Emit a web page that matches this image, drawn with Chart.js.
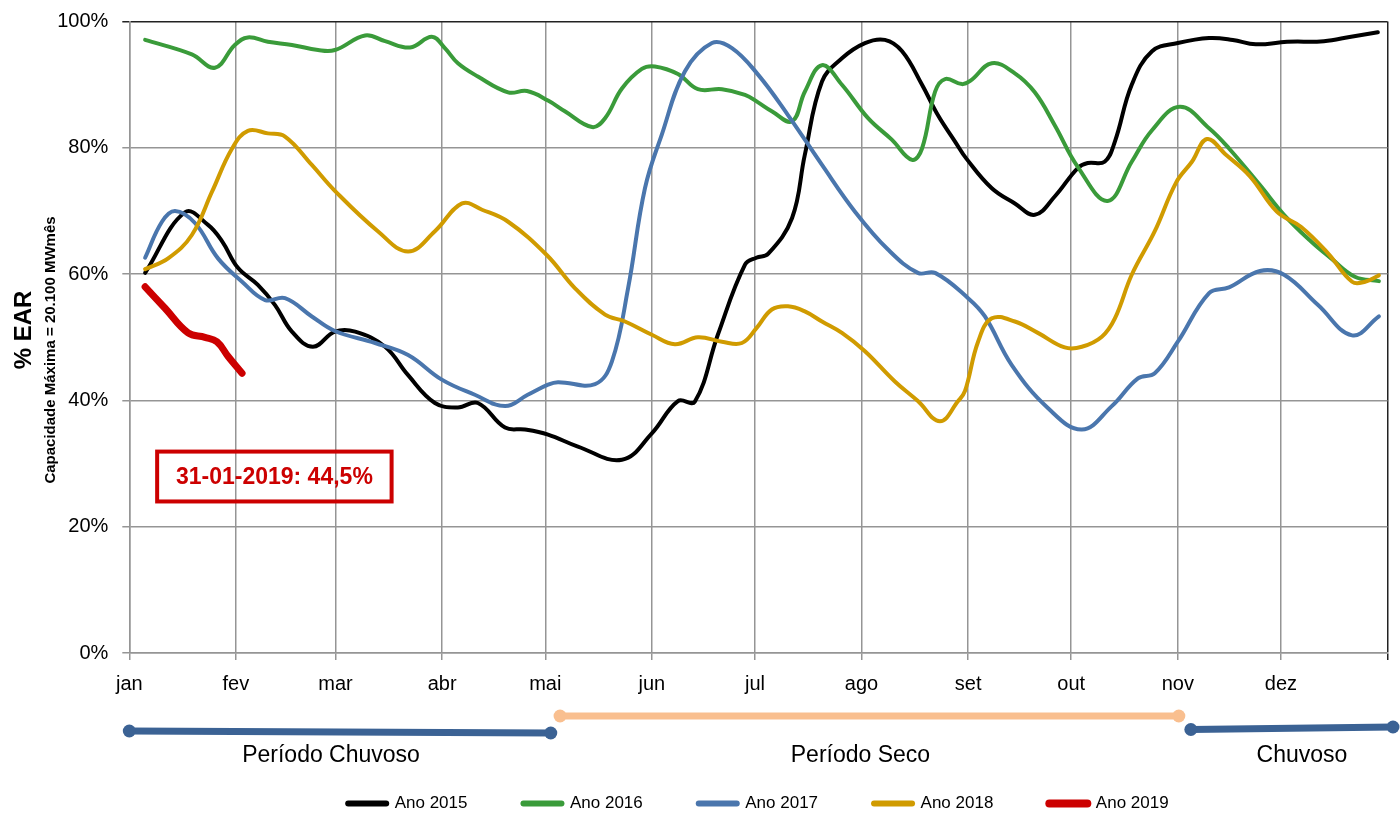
<!DOCTYPE html>
<html>
<head>
<meta charset="utf-8">
<script src="https://cdn.jsdelivr.net/npm/chart.js"></script>
<style>
  html, body { margin: 0; padding: 0; background: #fff; }
  #wrap { position: relative; width: 1400px; height: 814px; }
</style>
</head>
<body>
<div id="wrap"><canvas id="ear-chart"></canvas></div>
<script>
// ---- dados (dia do ano, % EAR) ----
const monthDays = [0, 31, 60, 91, 121, 152, 182, 213, 244, 274, 305, 335, 366];
const monthLabels = ["jan", "fev", "mar", "abr", "mai", "jun", "jul", "ago", "set", "out", "nov", "dez", ""];

const seriesNames = ["Ano 2015", "Ano 2016", "Ano 2017", "Ano 2018", "Ano 2019"];

const d2015 = [4.6, 16.2, 22.9, 27.0, 31.6, 37.4, 42.4, 47.3, 53.4, 59.8, 65.7, 74.4, 81.1, 88.9, 95.6, 101.4, 109.3, 115.1, 121.8, 130.5, 143.3, 152.0, 159.6, 164.5, 171.2, 179.1, 182.4, 185.8, 192.8, 196.5, 201.5, 207.3, 214.0, 219.8, 224.8, 230.6, 235.2, 240.2, 243.5, 250.9, 257.6, 263.4, 269.2, 275.9, 278.8, 283.7, 286.7, 291.6, 297.5, 305.0, 314.1, 321.0, 327.7, 336.8, 347.5, 355.4, 363.2];
const v2015 = [60.2, 69.8, 67.8, 65.2, 61.0, 58.3, 55.1, 50.9, 48.5, 50.9, 50.9, 48.5, 44.0, 39.6, 38.9, 39.6, 35.7, 35.4, 34.6, 32.7, 30.6, 34.8, 39.9, 39.8, 50.4, 61.5, 62.6, 63.2, 68.9, 78.9, 90.5, 94.2, 96.6, 97.1, 95.3, 90.0, 85.2, 81.0, 78.3, 73.6, 71.2, 69.4, 72.3, 76.8, 77.6, 77.8, 81.0, 90.0, 95.3, 96.6, 97.4, 97.1, 96.4, 96.8, 96.9, 97.6, 98.3];

const d2016 = [4.6, 18.2, 24.9, 30.7, 34.5, 40.3, 47.3, 54.9, 59.8, 68.6, 74.4, 81.7, 88.0, 91.8, 95.6, 101.4, 110.2, 115.7, 121.8, 126.7, 134.6, 138.4, 143.3, 149.1, 152.9, 159.6, 165.4, 172.4, 179.1, 182.9, 186.9, 192.8, 196.5, 201.5, 207.3, 214.9, 221.8, 227.7, 230.6, 234.4, 237.3, 242.2, 244.6, 250.9, 257.6, 263.4, 269.2, 275.9, 284.6, 291.6, 297.5, 305.6, 314.1, 319.9, 328.9, 335.9, 343.7, 349.6, 356.5, 363.5];
const v2016 = [97.1, 94.8, 92.7, 96.3, 97.5, 96.8, 96.3, 95.5, 95.5, 97.8, 96.9, 95.9, 97.6, 95.8, 93.4, 91.3, 88.8, 89.0, 87.5, 85.8, 83.3, 84.7, 89.4, 92.5, 92.9, 91.7, 89.3, 89.3, 88.4, 87.2, 85.8, 84.2, 88.9, 93.1, 90.0, 84.7, 81.3, 78.1, 79.9, 88.9, 90.9, 90.1, 90.6, 93.4, 91.8, 88.8, 83.6, 77.0, 71.6, 77.8, 82.8, 86.5, 83.1, 79.9, 74.1, 69.4, 65.2, 62.5, 59.6, 58.9];

const d2017 = [4.6, 9.5, 13.3, 19.1, 25.8, 32.8, 39.5, 45.3, 53.1, 59.8, 71.5, 81.1, 90.9, 100.5, 109.3, 115.9, 121.8, 124.7, 135.5, 140.4, 145.1, 150.0, 154.9, 161.6, 169.5, 175.3, 182.9, 191.6, 201.5, 211.1, 220.7, 229.4, 234.4, 244.0, 248.9, 256.7, 267.2, 277.1, 285.8, 293.4, 298.3, 305.0, 314.1, 319.9, 328.9, 335.9, 345.8, 355.7, 363.5];
const v2017 = [62.6, 68.3, 70.0, 68.1, 62.5, 58.8, 55.9, 56.2, 53.3, 51.0, 49.1, 47.2, 43.3, 40.9, 39.1, 40.9, 42.5, 42.9, 42.6, 46.2, 57.8, 73.6, 82.1, 92.1, 96.6, 95.8, 91.6, 85.2, 77.3, 69.9, 63.9, 60.2, 60.2, 56.2, 53.3, 45.6, 38.8, 35.4, 39.1, 43.5, 44.3, 49.3, 57.0, 57.9, 60.5, 59.9, 55.1, 50.3, 53.3];

const d2018 = [4.6, 11.3, 18.2, 24.1, 29.9, 34.5, 40.3, 45.3, 53.1, 59.8, 72.3, 81.1, 88.9, 96.8, 102.6, 110.2, 121.5, 129.6, 138.4, 144.2, 152.0, 158.7, 165.4, 172.4, 178.2, 182.5, 186.9, 191.6, 196.5, 201.5, 207.3, 214.0, 222.7, 229.4, 235.8, 241.1, 243.1, 246.9, 250.9, 257.6, 264.3, 272.1, 277.1, 282.9, 286.7, 291.6, 298.3, 304.5, 309.1, 313.5, 319.0, 326.0, 333.8, 340.8, 348.7, 355.7, 359.5, 363.5];
const v2018 = [60.8, 62.5, 66.2, 73.1, 79.9, 82.7, 82.3, 81.8, 77.3, 73.2, 66.8, 63.6, 66.8, 71.2, 70.2, 68.3, 63.0, 57.8, 53.6, 52.5, 50.4, 48.9, 50.0, 49.3, 49.1, 51.5, 54.4, 54.9, 54.1, 52.5, 50.7, 47.8, 43.0, 39.9, 36.7, 39.9, 41.5, 49.3, 53.0, 52.5, 50.7, 48.4, 48.5, 50.1, 53.0, 59.9, 66.8, 74.5, 77.8, 81.4, 78.9, 75.5, 69.9, 67.5, 63.3, 58.8, 58.8, 59.8];

const d2019 = [4.6, 10.4, 17.1, 22.0, 25.5, 28.7, 32.8];
const v2019 = [58.0, 54.6, 50.7, 50.0, 49.3, 47.0, 44.3];

const periodNames = ["Período Chuvoso", "Período Seco", "Chuvoso"];
const periodStart = [0, 125.3, 308.8];
const periodEnd = [122.6, 305.3, 367.6];

const noteText = "31-01-2019: 44,5%";

// ---- estilo ----
const FONT = "'Liberation Sans', Arial, sans-serif";
const colors = ["#000000", "#3a9b3a", "#4a76ad", "#d09b00", "#cc0000"];
const widths = [4, 4, 4, 4, 7];
const GRID = "#959595";

function toPoints(days, vals) {
  return days.map((d, i) => ({ x: d, y: vals[i] }));
}

const allDays = [d2015, d2016, d2017, d2018, d2019];
const allVals = [v2015, v2016, v2017, v2018, v2019];

const datasets = seriesNames.map((name, i) => ({
  label: name,
  data: toPoints(allDays[i], allVals[i]),
  borderColor: colors[i],
  backgroundColor: colors[i],
  borderWidth: widths[i],
  borderCapStyle: "round",
  borderJoinStyle: "round",
  pointRadius: 0,
  tension: 0.4,
  fill: false,
  order: 4 - i
}));

// faixas de período + rótulos
const periodPlugin = {
  id: "periodos",
  afterDraw(chart, args, opts) {
    const { ctx, scales: { x }, chartArea } = chart;
    const base = chartArea.bottom;
    ctx.save();
    periodNames.forEach((name, i) => {
      const x0 = x.getPixelForValue(periodStart[i]);
      const x1 = x.getPixelForValue(periodEnd[i]);
      const y0 = base + opts.dy0[i];
      const y1 = base + opts.dy1[i];
      ctx.strokeStyle = opts.colors[i];
      ctx.fillStyle = opts.colors[i];
      ctx.lineWidth = 7;
      ctx.lineCap = "butt";
      ctx.beginPath();
      ctx.moveTo(x0, y0);
      ctx.lineTo(x1, y1);
      ctx.stroke();
      [[x0, y0], [x1, y1]].forEach(([px, py]) => {
        ctx.beginPath();
        ctx.arc(px, py, 6.5, 0, Math.PI * 2);
        ctx.fill();
      });
      ctx.fillStyle = "#000";
      ctx.font = "23px " + FONT;
      ctx.textAlign = "center";
      ctx.textBaseline = "middle";
      ctx.fillText(name, (x0 + x1) / 2 + opts.labelDx[i], base + opts.labelDy);
    });
    ctx.restore();
  }
};

// caixa de destaque (desenhada antes da grade)
const notePlugin = {
  id: "nota",
  beforeDatasetsDraw(chart, args, opts) {
    const { ctx, scales: { x, y } } = chart;
    const left = x.getPixelForValue(opts.x0);
    const right = x.getPixelForValue(opts.x1);
    const top = y.getPixelForValue(opts.y0);
    const bottom = y.getPixelForValue(opts.y1);
    ctx.save();
    ctx.strokeStyle = "#cc0000";
    ctx.lineWidth = 4;
    ctx.strokeRect(left, top, right - left, bottom - top);
    ctx.fillStyle = "#cc0000";
    ctx.font = "bold 23px " + FONT;
    ctx.textAlign = "center";
    ctx.textBaseline = "middle";
    ctx.fillText(noteText, (left + right) / 2, (top + bottom) / 2 + 1);
    ctx.restore();
  }
};

// título do eixo Y em duas linhas
const yTitlePlugin = {
  id: "tituloY",
  afterDraw(chart) {
    const { ctx } = chart;
    ctx.save();
    ctx.fillStyle = "#000";
    ctx.textAlign = "center";
    ctx.textBaseline = "middle";
    ctx.translate(24, 330);
    ctx.rotate(-Math.PI / 2);
    ctx.font = "bold 24px " + FONT;
    ctx.fillText("% EAR", 0, 0);
    ctx.restore();
    ctx.save();
    ctx.fillStyle = "#000";
    ctx.textAlign = "center";
    ctx.textBaseline = "middle";
    ctx.translate(51, 350);
    ctx.rotate(-Math.PI / 2);
    ctx.font = "bold 15px " + FONT;
    ctx.fillText("Capacidade Máxima = 20.100 MWmês", 0, 0);
    ctx.restore();
  }
};

new Chart(document.getElementById("ear-chart"), {
  type: "line",
  data: { datasets },
  plugins: [notePlugin, periodPlugin, yTitlePlugin],
  options: {
    responsive: true,
    maintainAspectRatio: false,
    animation: false,
    layout: { padding: { top: 21.6, right: 12.5, left: 0, bottom: -8 } },
    scales: {
      x: {
        type: "linear",
        min: 0,
        max: 366,
        afterBuildTicks: scale => {
          scale.ticks = monthDays.map(v => ({ value: v }));
        },
        afterFit: scale => {
          scale.height = 86;
          scale.paddingLeft = 0;
          scale.paddingRight = 0;
        },
        ticks: {
          autoSkip: false,
          maxRotation: 0,
          padding: 12,
          color: "#000",
          font: { family: FONT, size: 20 },
          callback: (value, index) => monthLabels[index]
        },
        grid: {
          color: c => (c.tick && c.tick.value === 366 ? "#222" : GRID),
          lineWidth: 1.5,
          tickLength: 7
        },
        border: { color: GRID, width: 1.5 }
      },
      y: {
        min: 0,
        max: 100,
        afterFit: scale => {
          scale.width = 129.3;
          scale.paddingTop = 0;
          scale.paddingBottom = 0;
        },
        ticks: {
          stepSize: 20,
          padding: 14,
          color: "#000",
          font: { family: FONT, size: 20 },
          callback: v => v + "%"
        },
        grid: {
          color: c => (c.tick && c.tick.value === 100 ? "#222" : GRID),
          lineWidth: 1.5,
          tickLength: 7
        },
        border: { color: GRID, width: 1.5 }
      }
    },
    plugins: {
      legend: {
        position: "bottom",
        fullSize: false,
        labels: {
          color: "#000",
          font: { family: FONT, size: 17 },
          usePointStyle: true,
          pointStyleWidth: 38,
          padding: 56,
          generateLabels: chart => {
            const items = Chart.defaults.plugins.legend.labels.generateLabels(chart);
            items.sort((a, b) => a.datasetIndex - b.datasetIndex);
            items.forEach(it => {
              it.pointStyle = "line";
              it.lineCap = "round";
              it.lineWidth = it.datasetIndex === 4 ? 8 : 6;
            });
            return items;
          }
        }
      },
      tooltip: { enabled: false },
      nota: { x0: 8.1, x1: 76.3, y0: 31.9, y1: 24.0 },
      periodos: {
        colors: ["#3b6294", "#f9bf8f", "#3b6294"],
        dy0: [78, 63, 76.5],
        dy1: [80, 63, 74],
        labelDx: [-9, -9, 10],
        labelDy: 103
      }
    }
  }
});
</script>
</body>
</html>
